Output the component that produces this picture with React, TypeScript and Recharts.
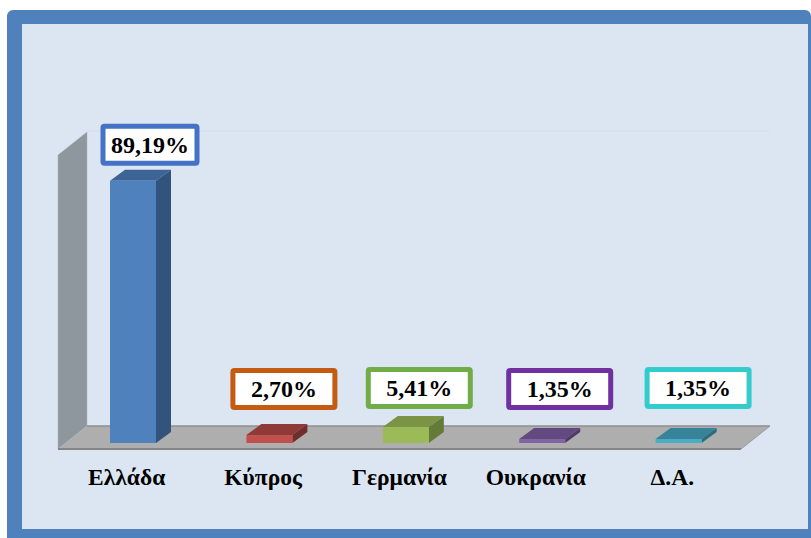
import { BarChart, Bar, XAxis, YAxis, LabelList, usePlotArea } from 'recharts';

const categories = ['Ελλάδα', 'Κύπρος', 'Γερμανία', 'Ουκρανία', 'Δ.Α.'];
const shares = [89.19, 2.7, 5.41, 1.35, 1.35];

const frontColors = ['#4f81bd', '#c0504d', '#9bbb59', '#8064a2', '#4bacc6'];
const topColors = ['#3c6494', '#8f3a38', '#7a9344', '#62497f', '#37839a'];
const sideColors = ['#31537c', '#6f2d2b', '#647a36', '#4f3a68', '#2c6a7d'];
const borderColors = ['#4472c4', '#c55a11', '#70ad47', '#7030a0', '#33cccc'];

const data = categories.map((name, i) => ({ name, share: shares[i] }));

// the chart is a fake 3D one: everything is pushed back by this much
const DEPTH_X = 15;
const DEPTH_Y = 11;
const FLOOR_DROP = 6;
const WALL_X = 29;
const WALL_Y = 23;

// hand placed data labels, relative to the top centre of the bar
const labelOffsets = [
  { dx: 17, dy: -36, w: 99 },
  { dx: 14.5, dy: -46, w: 107 },
  { dx: 13.5, dy: -39, w: 107 },
  { dx: 17.5, dy: -50, w: 107 },
  { dx: 19.5, dy: -51, w: 107 },
];

function Backdrop() {
  const plot = usePlotArea();
  if (!plot) return null;
  const left = plot.x - 7;
  const right = plot.x + plot.width - 6;
  const top = plot.y + FLOOR_DROP;
  const bottom = plot.y + plot.height + FLOOR_DROP;
  return (
    <g>
      <line x1={left + WALL_X} x2={right + WALL_X} y1={top - WALL_Y - 1} y2={top - WALL_Y - 1} stroke="#d3deec" />
      <polygon
        points={`${left},${top} ${left + WALL_X},${top - WALL_Y} ${left + WALL_X},${bottom - WALL_Y} ${left},${bottom}`}
        fill="#8e969e"
        stroke="#a9b1ba"
        strokeWidth={0.5}
      />
      <polygon
        points={`${left},${bottom} ${left + WALL_X},${bottom - WALL_Y} ${right + WALL_X},${bottom - WALL_Y} ${right},${bottom}`}
        fill="#aeaeae"
      />
      <line x1={left + WALL_X} x2={right + WALL_X} y1={bottom - WALL_Y} y2={bottom - WALL_Y} stroke="#8f8f8f" strokeWidth={1.5} />
      <line x1={right} x2={right + WALL_X} y1={bottom} y2={bottom - WALL_Y} stroke="#9a9a9a" />
      <line x1={left} x2={right} y1={bottom} y2={bottom} stroke="#858585" strokeWidth={2} />
    </g>
  );
}

function Block(props: any) {
  const { x, y, width, height, index } = props;
  const r = x + width;
  const b = y + height;
  return (
    <g>
      <polygon
        points={`${x},${y} ${x + DEPTH_X},${y - DEPTH_Y} ${r + DEPTH_X},${y - DEPTH_Y} ${r},${y}`}
        fill={topColors[index]}
      />
      <polygon
        points={`${r},${y} ${r + DEPTH_X},${y - DEPTH_Y} ${r + DEPTH_X},${b - DEPTH_Y} ${r},${b}`}
        fill={sideColors[index]}
      />
      <rect x={x} y={y} width={width} height={height} fill={frontColors[index]} />
    </g>
  );
}

function ShareLabel(props: any) {
  const { x, y, width, value, index } = props;
  const offset = labelOffsets[index];
  const cx = x + width / 2 + offset.dx;
  const cy = y + offset.dy;
  return (
    <g>
      <rect
        x={cx - offset.w / 2 + 2.5}
        y={cy - 18.5}
        width={offset.w - 5}
        height={37}
        rx={1.5}
        fill="#ffffff"
        stroke={borderColors[index]}
        strokeWidth={5}
      />
      <text
        x={cx}
        y={cy}
        textAnchor="middle"
        dominantBaseline="central"
        fontFamily="'Liberation Serif', serif"
        fontWeight="bold"
        fontSize={24}
        fill="#000000"
      >
        {`${Number(value).toFixed(2).replace('.', ',')}%`}
      </text>
    </g>
  );
}

export default function App() {
  return (
    <div style={{ position: 'absolute', left: 0, top: 0, width: 811, height: 538, background: '#ffffff', overflow: 'hidden' }}>
      <div
        style={{
          position: 'absolute',
          left: 7,
          top: 10,
          width: 786,
          height: 505,
          background: '#dce6f2',
          borderStyle: 'solid',
          borderColor: '#4f81bd',
          borderWidth: '14px 3px 9px 15px',
          borderRadius: '6px 6px 0 0',
        }}
      />
      <div style={{ position: 'absolute', left: 0, top: 0 }}>
        <BarChart
          width={811}
          height={538}
          data={data}
          margin={{ top: 149, right: 64, bottom: 35, left: 65 }}
          barCategoryGap={0}
        >
          <Backdrop />
          <XAxis
            dataKey="name"
            axisLine={false}
            tickLine={false}
            interval={0}
            height={60}
            tickMargin={0}
            tick={{ fontFamily: "'Liberation Serif', serif", fontWeight: 'bold', fontSize: 23.5, fill: '#000000', dx: -6.5, dy: 19 }}
          />
          <YAxis hide domain={[0, 100]} />
          <Bar dataKey="share" barSize={46} shape={Block} isAnimationActive={false}>
            <LabelList dataKey="share" content={ShareLabel} />
          </Bar>
        </BarChart>
      </div>
    </div>
  );
}
